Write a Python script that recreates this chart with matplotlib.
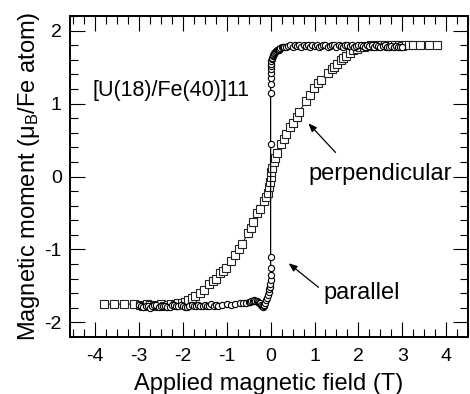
import matplotlib
matplotlib.use("Agg")
import matplotlib.pyplot as plt
from matplotlib.ticker import MultipleLocator

plt.rcParams['font.family'] = ['Liberation Sans', 'DejaVu Sans']
plt.rcParams['mathtext.fontset'] = 'custom'
plt.rcParams['mathtext.rm'] = 'Liberation Sans'
plt.rcParams['mathtext.it'] = 'Liberation Sans:italic'
plt.rcParams['axes.unicode_minus'] = False

# parallel (circles)
par_x = [-3.0, -2.95, -2.9, -2.85, -2.8, -2.75, -2.7, -2.65, -2.6, -2.55,
         -2.5, -2.45, -2.4, -2.35, -2.3, -2.25, -2.2, -2.15, -2.1, -2.05,
         -2.0, -1.95, -1.9, -1.85, -1.8, -1.75, -1.7, -1.65, -1.6, -1.55,
         -1.5, -1.45, -1.4, -1.35, -1.3, -1.25, -1.2, -1.1, -1.0, -0.9,
         -0.8, -0.7, -0.62, -0.55, -0.5, -0.47, -0.44, -0.41, -0.38, -0.35,
         -0.32, -0.29, -0.26, -0.24, -0.22, -0.2, -0.18, -0.16, -0.14, -0.12,
         -0.1, -0.08, -0.06, -0.04, -0.03, -0.02, -0.01, 0.0, 0.0, 0.0,
         0.0, 0.0, 0.0, 0.0, 0.0, 0.0, 0.005, 0.01, 0.015, 0.02,
         0.03, 0.04, 0.05, 0.06, 0.07, 0.08, 0.1, 0.12, 0.14, 0.16,
         0.18, 0.2, 0.22, 0.25, 0.28, 0.31, 0.35, 0.4, 0.45, 0.5,
         0.55, 0.6, 0.65, 0.7, 0.75, 0.8, 0.85, 0.9, 0.95, 1.0,
         1.05, 1.1, 1.15, 1.2, 1.25, 1.3, 1.35, 1.4, 1.45, 1.5,
         1.55, 1.6, 1.65, 1.7, 1.75, 1.8, 1.85, 1.9, 1.95, 2.0,
         2.05, 2.1, 2.15, 2.2, 2.25, 2.3, 2.35, 2.4, 2.45, 2.5,
         2.55, 2.6, 2.65, 2.7, 2.75, 2.8, 2.85, 2.9, 2.95, 3.0]
par_y = [-1.76, -1.78, -1.79, -1.77, -1.77, -1.8, -1.78, -1.76, -1.76, -1.79,
         -1.78, -1.77, -1.77, -1.79, -1.79, -1.76, -1.76, -1.78, -1.78, -1.76,
         -1.77, -1.79, -1.79, -1.77, -1.76, -1.78, -1.77, -1.76, -1.78, -1.77,
         -1.76, -1.78, -1.77, -1.75, -1.77, -1.76, -1.77, -1.76, -1.75, -1.76,
         -1.75, -1.74, -1.74, -1.73, -1.72, -1.72, -1.71, -1.71, -1.7, -1.71,
         -1.71, -1.72, -1.73, -1.74, -1.76, -1.78, -1.79, -1.78, -1.76, -1.74,
         -1.7, -1.67, -1.63, -1.59, -1.55, -1.51, -1.47, -1.42, -1.35, -1.25,
         -1.11, 0.45, 1.15, 1.27, 1.35, 1.42, 1.47, 1.51, 1.55, 1.58,
         1.61, 1.63, 1.65, 1.67, 1.68, 1.7, 1.71, 1.72, 1.73, 1.74,
         1.74, 1.75, 1.76, 1.77, 1.77, 1.78, 1.78, 1.79, 1.8, 1.78,
         1.81, 1.79, 1.8, 1.78, 1.81, 1.79, 1.8, 1.78, 1.81, 1.79,
         1.8, 1.78, 1.79, 1.81, 1.8, 1.78, 1.79, 1.8, 1.81, 1.78,
         1.8, 1.79, 1.78, 1.8, 1.81, 1.79, 1.8, 1.78, 1.79, 1.8,
         1.81, 1.79, 1.78, 1.8, 1.79, 1.81, 1.78, 1.8, 1.79, 1.77,
         1.79, 1.8, 1.78, 1.77, 1.79, 1.78, 1.79, 1.78, 1.77, 1.78]

# perpendicular (squares)
perp_x = [-3.8, -3.57, -3.35, -3.12, -2.98, -2.9, -2.82, -2.74, -2.66, -2.58,
          -2.5, -2.42, -2.34, -2.26, -2.18, -2.1, -2.02, -1.95, -1.88, -1.8,
          -1.72, -1.62, -1.52, -1.4, -1.32, -1.25, -1.15, -1.08, -1.02, -0.9,
          -0.8, -0.72, -0.65, -0.52, -0.45, -0.4, -0.3, -0.25, -0.15, -0.1,
          -0.07, -0.04, -0.02, 0.0, 0.02, 0.04, 0.07, 0.1, 0.15, 0.23,
          0.3, 0.35, 0.45, 0.52, 0.6, 0.65, 0.8, 0.9, 0.98, 1.08,
          1.15, 1.3, 1.4, 1.45, 1.52, 1.6, 1.65, 1.72, 1.8, 1.88,
          1.96, 2.04, 2.12, 2.2, 2.28, 2.36, 2.44, 2.52, 2.6, 2.68,
          2.76, 2.84, 2.92, 3.0, 3.08, 3.16, 3.24, 3.4, 3.6, 3.8]
perp_y = [-1.75, -1.75, -1.75, -1.75, -1.76, -1.77, -1.75, -1.76, -1.78, -1.76,
          -1.75, -1.77, -1.76, -1.75, -1.76, -1.74, -1.73, -1.72, -1.7, -1.67,
          -1.64, -1.6, -1.56, -1.47, -1.43, -1.4, -1.33, -1.29, -1.26, -1.16,
          -1.08, -1.0, -0.93, -0.78, -0.7, -0.62, -0.5, -0.45, -0.33, -0.28,
          -0.22, -0.15, -0.07, 0.0, 0.06, 0.12, 0.2, 0.25, 0.32, 0.45,
          0.52, 0.58, 0.68, 0.74, 0.82, 0.88, 1.04, 1.12, 1.22, 1.28,
          1.33, 1.42, 1.48, 1.5, 1.55, 1.6, 1.62, 1.66, 1.7, 1.73,
          1.75, 1.77, 1.78, 1.79, 1.8, 1.79, 1.8, 1.81, 1.8, 1.79,
          1.8, 1.81, 1.8, 1.79, 1.8, 1.8, 1.81, 1.8, 1.8, 1.8]

xticks = [-4, -3, -2, -1, 0, 1, 2, 3, 4]
yticks = [-2, -1, 0, 1, 2]

fig = plt.figure(figsize=(4.7, 3.94), dpi=100)
ax = fig.add_axes([0.149, 0.145, 0.847, 0.814])

ax.plot(perp_x, perp_y, '-', color='black', lw=0.7, marker='s', ms=6,
        mfc='white', mec='#222222', mew=0.8)
ax.plot(par_x, par_y, '-', color='black', lw=0.9, marker='o', ms=4.5,
        mfc='white', mec='black', mew=0.8)

ax.set_xlim(-4.57, 4.5)
ax.set_ylim(-2.2, 2.2)
ax.set_xticks(xticks)
ax.set_yticks(yticks)
ax.xaxis.set_minor_locator(MultipleLocator(0.25))
ax.yaxis.set_minor_locator(MultipleLocator(0.2))
ax.tick_params(which='both', direction='in', top=True, right=True, labelsize=14)
ax.tick_params(which='major', length=11, width=0.8)
ax.tick_params(which='minor', length=6, width=0.8)
ax.tick_params(axis='x', which='major', pad=8)
ax.tick_params(axis='y', which='major', pad=6)
for s in ax.spines.values():
    s.set_linewidth(1.4)

ax.set_xlabel('Applied magnetic field (T)', fontsize=17, labelpad=6)
ax.set_ylabel(r'Magnetic moment (μ$_{\rm B}$/Fe atom)', fontsize=17, labelpad=2)

ax.text(-4.05, 1.18, '[U(18)/Fe(40)]11', fontsize=15.5, va='center', ha='left')
ax.text(0.86, 0.04, 'perpendicular', fontsize=17, va='center', ha='left')
ax.text(1.2, -1.6, 'parallel', fontsize=17, va='center', ha='left')

arrowprops = dict(arrowstyle='-|>,head_length=0.5,head_width=0.2', color='black', lw=0.9,
                  shrinkA=0, shrinkB=0)
ax.annotate('', xy=(0.86, 0.73), xytext=(1.48, 0.33), arrowprops=arrowprops)
ax.annotate('', xy=(0.41, -1.19), xytext=(1.09, -1.52), arrowprops=arrowprops)

fig.savefig('out.png', dpi=100)
